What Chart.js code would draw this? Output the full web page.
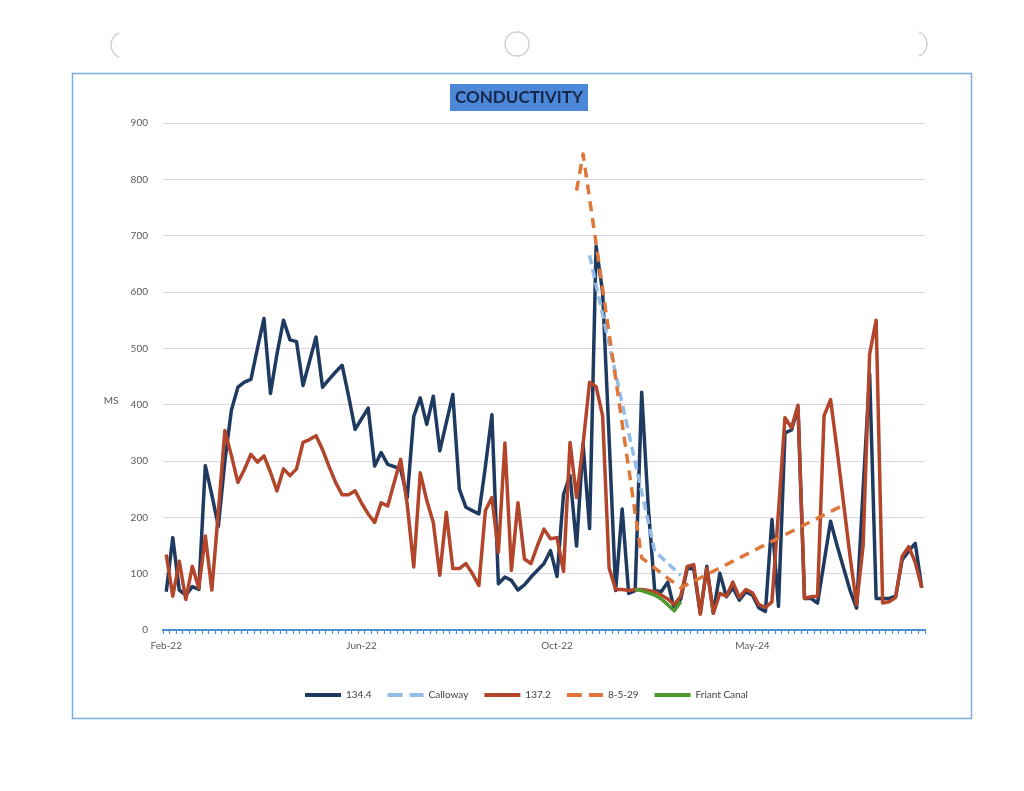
<!DOCTYPE html>
<html>
<head>
<meta charset="utf-8">
<title>Conductivity</title>
<script src="https://cdn.jsdelivr.net/npm/chart.js@4.4.1/dist/chart.umd.min.js"></script>
<style>
  html, body { margin: 0; padding: 0; background: #fff; }
  #wrap { width: 1024px; height: 791px; }
</style>
</head>
<body>
<div id="wrap"><canvas id="condChart" width="1024" height="791"></canvas></div>
<script>
// x axis: one category per sample, only a few of them carry a label
const pointCount = 117;
const tickLabels = ['Feb-22', 'Jun-22', 'Oct-22', 'May-24'];
const tickIndex = [0, 30, 60, 90];

// 134.4
const site1344 = [
    68, 164, 71, 62, 77, 72, 292, 240, 184, 300,
    390, 431, 440, 445, 500, 553, 420, 490, 550, 515,
    512, 434, 477, 520, 431, 445, 458, 470, 415, 356,
    375, 394, 291, 315, 294, 290, 285, 235, 379, 412,
    365, 415, 318, 368, 418, 250, 218, 212, 206, 290,
    382, 82, 94, 88, 71, 80, 94, 106, 118, 141,
    95, 241, 274, 149, 330, 180, 681, 600, 340, 70,
    215, 65, 70, 422, 220, 70, 68, 85, 37, 55,
    110, 108, 30, 113, 30, 101, 59, 75, 53, 68,
    62, 39, 33, 196, 42, 350, 355, 395, 56, 56,
    48, 120, 193, 150, 110, 70, 39, 250, 455, 56,
    56, 56, 60, 125, 140, 154, 75
];

// 137.2
const site1372 = [
    134, 60, 122, 54, 113, 74, 167, 71, 210, 354,
    310, 262, 285, 312, 298, 309, 280, 247, 286, 274,
    286, 333, 338, 345, 320, 290, 262, 240, 240, 247,
    225, 206, 191, 226, 220, 262, 303, 223, 112, 279,
    230, 191, 97, 209, 109, 109, 118, 100, 79, 212,
    235, 138, 332, 106, 226, 126, 118, 150, 179, 162,
    164, 104, 333, 235, 330, 440, 432, 380, 110, 72,
    72, 70, 72, 72, 70, 68, 62, 55, 45, 60,
    113, 116, 28, 110, 30, 65, 60, 85, 58, 72,
    66, 45, 40, 50, 210, 377, 359, 399, 56, 59,
    60, 380, 409, 320, 225, 130, 45, 150, 490, 550,
    48, 50, 58, 131, 148, 120, 75
];

// sparse series: sample position + value
const callowayIdx = [65, 75, 79];
const callowayVal = [665, 140, 97];

const site8529Idx = [63, 64, 73, 77, 79, 104];
const site8529Val = [780, 845, 128, 92, 75, 222];

const friantIdx = [72, 73, 74, 75, 76, 77, 78, 79];
const friantVal = [72, 70, 66, 62, 55, 45, 34, 50];

const categories = [];
for (let i = 0; i < pointCount; i++) {
    const k = tickIndex.indexOf(i);
    categories.push(k >= 0 ? tickLabels[k] : '');
}

const spread = (idx, vals) => {
    const out = new Array(pointCount).fill(null);
    idx.forEach((p, n) => { out[p] = vals[n]; });
    return out;
};

// page decorations: frame, punch holes, title box, axis caption
const pagePlugin = {
    id: 'page',
    beforeDraw(chart) {
        const c = chart.ctx;
        c.save();
        c.fillStyle = '#ffffff';
        c.fillRect(0, 0, chart.width, chart.height);

        c.strokeStyle = '#d2d2d2';
        c.lineWidth = 1.5;
        c.beginPath();
        c.arc(124, 45, 13, 0.62 * Math.PI, 1.38 * Math.PI);
        c.stroke();
        c.beginPath();
        c.arc(517, 44, 12, 0, 2 * Math.PI);
        c.stroke();
        c.beginPath();
        c.arc(914, 44, 13, -0.38 * Math.PI, 0.38 * Math.PI);
        c.stroke();

        c.strokeStyle = '#7aaee0';
        c.lineWidth = 1.5;
        c.strokeRect(72.5, 73.5, 899, 645);
        c.restore();
    },
    afterDraw(chart) {
        const c = chart.ctx;
        c.save();
        c.fillStyle = '#4d88d8';
        c.fillRect(450, 84, 138, 27);
        c.fillStyle = '#15284a';
        c.font = 'bold 17px Lato';
        c.textAlign = 'center';
        c.textBaseline = 'middle';
        c.fillText('CONDUCTIVITY', 519, 98);

        c.fillStyle = '#595959';
        c.font = '10px Lato';
        c.fillText('MS', 111, 401);
        c.restore();
    }
};

// legend keys: thick line, dashed where the series is dashed
const legendLabels = (chart) => {
    const items = Chart.defaults.plugins.legend.labels.generateLabels(chart);
    items.forEach((item) => {
        const ds = chart.data.datasets[item.datasetIndex];
        item.lineWidth = 4;
        item.lineDash = ds.borderDash ? [15, 7] : [];
    });
    return items;
};

const ctx = document.getElementById('condChart').getContext('2d');

const condChart = new Chart(ctx, {
    type: 'line',
    data: {
        labels: categories,
        datasets: [
            {
                label: '134.4',
                data: site1344,
                borderColor: '#1f3a60',
                backgroundColor: '#1f3a60',
                borderWidth: 3.5,
                order: 5
            },
            {
                label: 'Calloway',
                data: spread(callowayIdx, callowayVal),
                borderColor: '#93bde6',
                backgroundColor: '#93bde6',
                borderWidth: 3.5,
                borderDash: [9, 5],
                spanGaps: true,
                order: 4
            },
            {
                label: '137.2',
                data: site1372,
                borderColor: '#b2452a',
                backgroundColor: '#b2452a',
                borderWidth: 3.5,
                order: 3
            },
            {
                label: '8-5-29',
                data: spread(site8529Idx, site8529Val),
                borderColor: '#e0773a',
                backgroundColor: '#e0773a',
                borderWidth: 3.5,
                borderDash: [10, 7],
                spanGaps: true,
                order: 2
            },
            {
                label: 'Friant Canal',
                data: spread(friantIdx, friantVal),
                borderColor: '#4f9a30',
                backgroundColor: '#4f9a30',
                borderWidth: 3.5,
                spanGaps: true,
                order: 1
            }
        ]
    },
    options: {
        responsive: false,
        animation: false,
        devicePixelRatio: 1,
        layout: {
            padding: { top: 123, right: 99, bottom: 81, left: 128 }
        },
        elements: {
            point: { radius: 0 },
            line: { tension: 0, borderJoinStyle: 'round', borderCapStyle: 'butt' }
        },
        plugins: {
            legend: {
                position: 'bottom',
                labels: {
                    usePointStyle: true,
                    pointStyle: 'line',
                    pointStyleWidth: 36,
                    padding: 16,
                    color: '#404040',
                    font: { family: 'Lato', size: 10 },
                    generateLabels: legendLabels,
                    sort: (a, b) => a.datasetIndex - b.datasetIndex
                }
            },
            title: { display: false },
            tooltip: { enabled: false }
        },
        scales: {
            x: {
                offset: true,
                grid: {
                    display: true,
                    offset: true,
                    drawOnChartArea: false,
                    drawTicks: true,
                    tickLength: 4,
                    tickColor: '#4a8fd2',
                    tickWidth: 1.2
                },
                border: { display: true, color: '#4a8fd2', width: 2 },
                ticks: {
                    autoSkip: false,
                    maxRotation: 0,
                    minRotation: 0,
                    padding: 6,
                    color: '#595959',
                    font: { family: 'Lato', size: 10 }
                },
                afterFit: (scale) => { scale.height = 44; }
            },
            y: {
                min: 0,
                max: 900,
                grid: {
                    color: '#dcd5e9',
                    lineWidth: 1,
                    drawTicks: false
                },
                border: { display: false },
                ticks: {
                    stepSize: 100,
                    padding: 15,
                    color: '#595959',
                    font: { family: 'Lato', size: 10 }
                },
                afterFit: (scale) => { scale.width = 35; }
            }
        }
    },
    plugins: [pagePlugin]
});
</script>
</body>
</html>
